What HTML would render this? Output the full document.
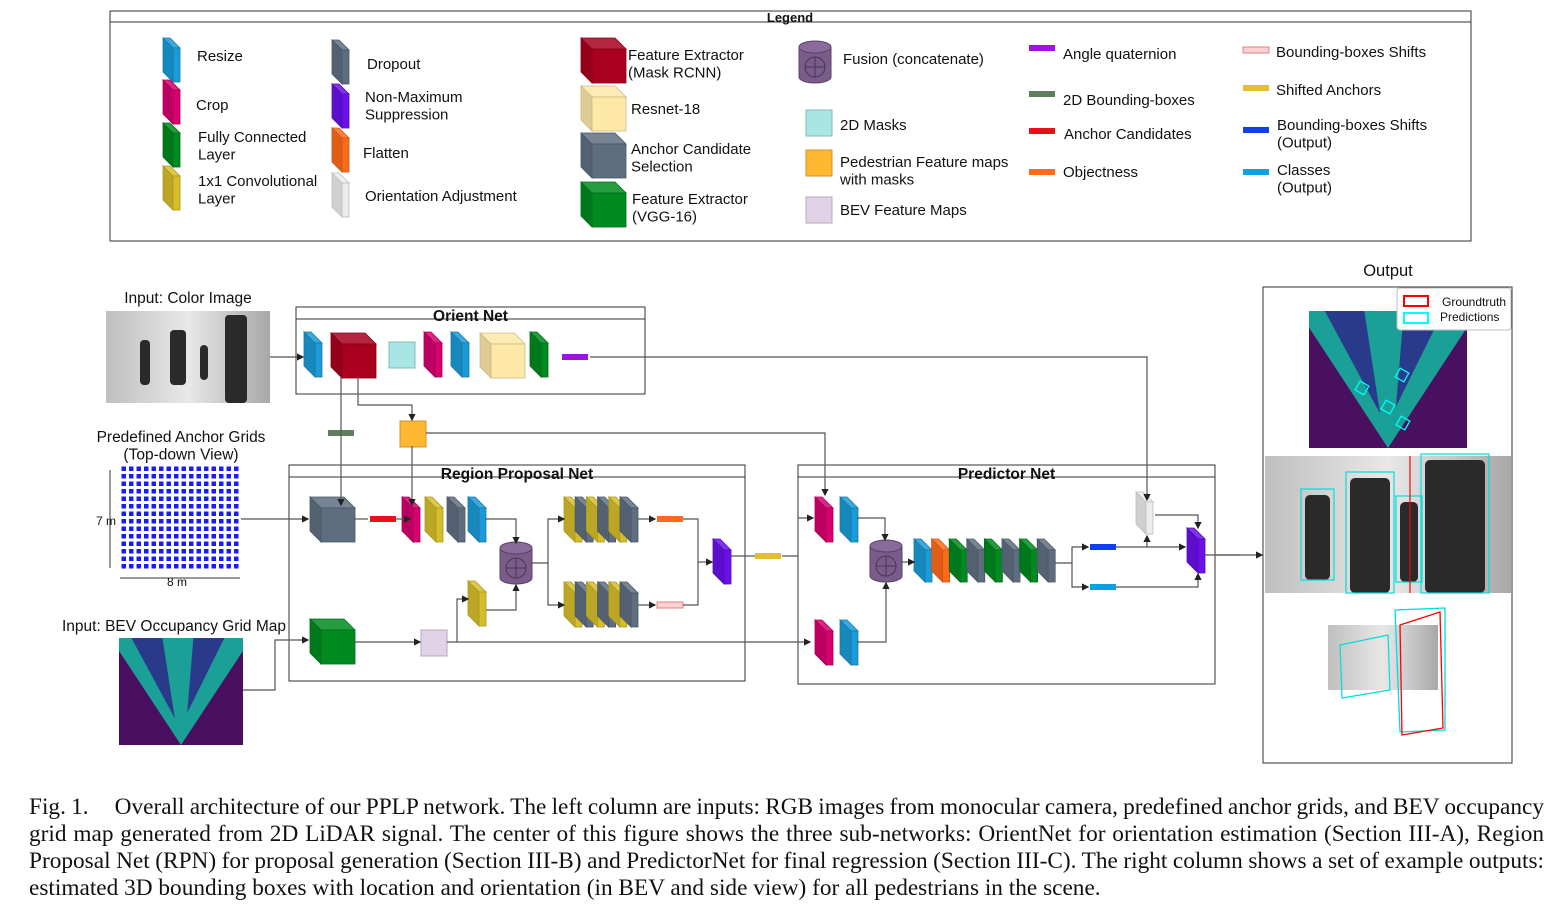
<!DOCTYPE html>
<html><head><meta charset="utf-8"><style>
html,body{margin:0;padding:0;background:#fff;width:1557px;height:909px;overflow:hidden}
svg text{font-family:"Liberation Sans",sans-serif;fill:#111}
#cap{position:absolute;left:29px;top:794px;width:1515px;font-family:"Liberation Serif",serif;font-size:23.3px;line-height:27px;color:#111}
#cap div{text-align:justify;text-align-last:justify;white-space:nowrap;word-spacing:-3px}
#cap div.last{text-align-last:left;word-spacing:0}
</style></head><body>
<svg id="svg" width="1557" height="909" style="position:absolute;left:0;top:0">
<defs>
<marker id="ar" markerWidth="6" markerHeight="6" refX="5" refY="3" orient="auto"><path d="M0,0 L6,3 L0,6z" fill="#222"/></marker>
<pattern id="grid" width="7.5" height="7.5" patternUnits="userSpaceOnUse"><rect width="7.5" height="7.5" fill="#fff"/><rect x="1.5" y="1.5" width="4.5" height="4.5" fill="#1a1aff"/></pattern>
<linearGradient id="photo" x1="0" x2="1"><stop offset="0" stop-color="#bfbfbf"/><stop offset="0.5" stop-color="#e8e8e8"/><stop offset="1" stop-color="#a8a8a8"/></linearGradient>
</defs>
<g>
<rect x="110" y="11" width="1361" height="230" fill="none" stroke="#333" stroke-width="1"/>
<line x1="110" y1="22" x2="1471" y2="22" stroke="#333"/>
<text x="790" y="22" font-size="13" font-weight="bold" text-anchor="middle">Legend</text>
</g>
<g id="lt" font-size="15"></g>
<g id="shapes"></g>
<g id="lines" stroke="#555" stroke-width="1.2" fill="none"></g>
</svg>
<div id="cap">
<div>Fig. 1.&nbsp;&nbsp;&nbsp;&nbsp;&nbsp;Overall architecture of our PPLP network. The left column are inputs: RGB images from monocular camera, predefined anchor grids, and BEV occupancy</div>
<div>grid map generated from 2D LiDAR signal. The center of this figure shows the three sub-networks: OrientNet for orientation estimation (Section III-A), Region</div>
<div>Proposal Net (RPN) for proposal generation (Section III-B) and PredictorNet for final regression (Section III-C). The right column shows a set of example outputs:</div>
<div class="last">estimated 3D bounding boxes with location and orientation (in BEV and side view) for all pedestrians in the scene.</div>
</div>
<script>
const NS='http://www.w3.org/2000/svg';
const S=document.getElementById('shapes'),L=document.getElementById('lines'),T=document.getElementById('lt');
function mk(t,a,p){const e=document.createElementNS(NS,t);for(const k in a)e.setAttribute(k,a[k]);(p||S).appendChild(e);return e;}
function sh(c,f){let n=parseInt(c.slice(1),16);let r=n>>16,g=(n>>8)&255,b=n&255;const m=v=>Math.max(0,Math.min(255,Math.round(f>1?v+(255-v)*(f-1):v*f)));return'rgb('+m(r)+','+m(g)+','+m(b)+')';}
function cube(x,y,w,h,d,c,name){const g=mk('g',{});


mk('polygon',{points:`${x},${y} ${x+w},${y} ${x+w+d},${y+d} ${x+d},${y+d}`,fill:sh(c,1.15),stroke:sh(c,0.8),'stroke-width':0.8},g);
mk('polygon',{points:`${x},${y} ${x+d},${y+d} ${x+d},${y+d+h} ${x},${y+h}`,fill:sh(c,0.88),stroke:sh(c,0.8),'stroke-width':0.8},g);
mk('rect',{x:x+d,y:y+d,width:w,height:h,fill:c,stroke:sh(c,0.8),'stroke-width':0.8},g);return g;}
function layer(x,y,c,name,h){return cube(x,y,7,h||34,11,c,name);}
function bigcube(x,y,c,name){return cube(x,y,34,34,11,c,name);}
function sq(x,y,c,name,s){const r=mk('rect',{x:x,y:y,width:s||26,height:s||26,fill:c,stroke:sh(c,0.8)});

}
function bar(x,y,c,name,st){const r=mk('rect',{x:x,y:y-3,width:26,height:6,fill:c,stroke:st||'none'});

}
function cyl(x,y,name){const g=mk('g',{});


const w=32,h=42,e=6;
mk('path',{d:`M${x},${y+e} L${x},${y+h-e} A${w/2},${e} 0 0 0 ${x+w},${y+h-e} L${x+w},${y+e}`,fill:'#7a5c8a',stroke:'#5a4266'},g);
mk('ellipse',{cx:x+w/2,cy:y+e,rx:w/2,ry:e,fill:'#8a6a9a',stroke:'#5a4266'},g);
mk('circle',{cx:x+w/2,cy:y+h*0.62,r:10,fill:'none',stroke:'#4a3456'},g);
mk('path',{d:`M${x+w/2-10},${y+h*0.62}h20M${x+w/2},${y+h*0.62-10}v20`,stroke:'#4a3456'},g);}
function txt(x,y,lines,p,a){lines.forEach((s,i)=>{const t=mk('text',Object.assign({x:x,y:y+i*17.5},a||{}),p||T);t.textContent=s;

});}
function ln(d,arrow){const p=mk('path',{d:d},L);if(arrow)p.setAttribute('marker-end','url(#ar)');}

const C={blue:'#1a9ad6',mag:'#d6006e',green:'#008a20',yel:'#d6be2a',slate:'#5e6e80',purp:'#6a10e8',orange:'#ff6a1a',white:'#ececec',red:'#a8001e',lyel:'#fde8a8',cyan:'#a8e6e6',porange:'#ffb830',lav:'#e2d2e8',fus:'#7a5c8a'};
cube(163,38,7,34,10,C.blue,'legend-icon-resize');txt(197,61,['Resize']);
cube(163,80,7,34,10,C.mag,'legend-icon-crop');txt(196,110,['Crop']);
cube(163,123,7,34,10,C.green,'legend-icon-fc');txt(198,142,['Fully Connected','Layer']);
cube(163,166,7,34,10,C.yel,'legend-icon-conv');txt(198,186,['1x1 Convolutional','Layer']);
cube(332,40,7,34,10,C.slate,'legend-icon-dropout');txt(367,69,['Dropout']);
cube(332,84,7,34,10,C.purp,'legend-icon-nms');txt(365,102,['Non-Maximum','Suppression']);
cube(332,128,7,34,10,C.orange,'legend-icon-flatten');txt(363,158,['Flatten']);
cube(332,173,7,34,10,C.white,'legend-icon-orientation');txt(365,201,['Orientation Adjustment']);
bigcube(581,38,C.red,'legend-icon-mask-rcnn');txt(628,60,['Feature Extractor','(Mask RCNN)']);
bigcube(581,86,C.lyel,'legend-icon-resnet');txt(631,114,['Resnet-18']);
bigcube(581,133,C.slate,'legend-icon-anchor-selection');txt(631,154,['Anchor Candidate','Selection']);
bigcube(581,182,C.green,'legend-icon-vgg');txt(632,204,['Feature Extractor','(VGG-16)']);
cyl(799,41,'legend-icon-fusion');txt(843,64,['Fusion (concatenate)']);
sq(806,110,C.cyan,'legend-icon-2d-masks');txt(840,130,['2D Masks']);
sq(806,150,C.porange,'legend-icon-ped-maps');txt(840,167,['Pedestrian Feature maps','with masks']);
sq(806,197,C.lav,'legend-icon-bev-maps');txt(840,215,['BEV Feature Maps']);
bar(1029,48,'#a010e8','legend-icon-angle');txt(1063,59,['Angle quaternion']);
bar(1029,94,'#5e7e5e','legend-icon-2d-bb');txt(1063,105,['2D Bounding-boxes']);
bar(1029,131,'#e8101a','legend-icon-anchor-cand');txt(1064,139,['Anchor Candidates']);
bar(1029,172,'#ff6a1a','legend-icon-objectness');txt(1063,177,['Objectness']);
bar(1243,50,'#fad0d0','legend-icon-bb-shifts','#e08080');txt(1276,57,['Bounding-boxes Shifts']);
bar(1243,88,'#e0c030','legend-icon-shifted-anchors');txt(1276,95,['Shifted Anchors']);
bar(1243,130,'#1040e8','legend-icon-bb-shifts-out');txt(1277,130,['Bounding-boxes Shifts','(Output)']);
bar(1243,172,'#10a0e0','legend-icon-classes-out');txt(1277,175,['Classes','(Output)']);

function netbox(x,y,w,h,title,name){const g=mk('g',{});


mk('rect',{x:x,y:y,width:w,height:h,fill:'none',stroke:'#333'},g);mk('line',{x1:x,y1:y+12,x2:x+w,y2:y+12,stroke:'#333'},g);
const t=mk('text',{x:x+w/2,y:y+14,'font-size':15.5,'font-weight':'bold','text-anchor':'middle'},g);t.textContent=title;}
netbox(296,307,349,87,'Orient Net','orient-net-box');
netbox(289,465,456,216,'Region Proposal Net','region-proposal-net-box');
netbox(798,465,417,219,'Predictor Net','predictor-net-box');
const ob=mk('rect',{x:1263,y:287,width:249,height:476,fill:'none',stroke:'#333'});


txt(1388,276,['Output'],S,{'font-size':16.5,'text-anchor':'middle'});
txt(188,303,['Input: Color Image'],S,{'font-size':15.5,'text-anchor':'middle'});
txt(181,442,['Predefined Anchor Grids','(Top-down View)'],S,{'font-size':15.5,'text-anchor':'middle'});
txt(174,631,['Input: BEV Occupancy Grid Map'],S,{'font-size':15.5,'text-anchor':'middle'});
txt(106,525,['7 m'],S,{'font-size':12,'text-anchor':'middle'});
txt(177,586,['8 m'],S,{'font-size':12,'text-anchor':'middle'});

ln('M270,357 H303',1);ln('M590,357 H1147 V500',1);
ln('M341,377 V405 H341 V505',1);ln('M358,377 V405 H412 V420',1);ln('M412,446 V505',1);
ln('M426,433 H825 V495',1);
ln('M241,519 H308',1);ln('M354,519 H368');ln('M396,519 H410',1);
ln('M485,519 H516 V543',1);ln('M531,563 H548 V519 H564',1);ln('M548,563 V605 H564',1);
ln('M638,519 H655',1);ln('M638,605 H655',1);ln('M683,519 H698 V605 H683');ln('M698,562 H712',1);
ln('M486,610 H516 V585',1);ln('M457,642 V599 H468',1);
ln('M243,690 H275 V640 H308',1);ln('M355,642 H420',1);ln('M447,642 H810',1);
ln('M731,556 H755');ln('M782,556 H798 V518 H813',1);ln('M798,556 V642',0);ln('M857,518 H885 V540',1);ln('M857,642 H886 V583',1);
ln('M901,562 H914',1);ln('M1055,563 H1072 V547 H1088',1);ln('M1072,563 V587 H1088',1);
ln('M1116,547 H1185',1);ln('M1147,547 V536',1);ln('M1155,515 H1198 V528',1);ln('M1116,587 H1198 V574',1);
ln('M1205,555 H1262',1);ln('M1215,555 H1240');

layer(304,332,C.blue,'orient-resize-layer');bigcube(331,333,C.red,'orient-mask-rcnn');
sq(389,342,C.cyan,'orient-2d-masks');layer(424,332,C.mag,'orient-crop-layer');layer(451,332,C.blue,'orient-resize-layer-2');
bigcube(480,333,C.lyel,'orient-resnet18');layer(530,332,C.green,'orient-fc-layer');bar(562,357,'#a010e8','orient-angle-quaternion');
bar(328,433,'#5e7e5e','rpn-2d-bboxes');sq(400,421,C.porange,'pedestrian-feature-maps');
bigcube(310,497,C.slate,'rpn-anchor-selection');bar(370,519,'#e8101a','rpn-anchor-candidates');
layer(402,497,C.mag,'rpn-crop');layer(425,497,C.yel,'rpn-conv');layer(447,497,C.slate,'rpn-dropout');layer(468,497,C.blue,'rpn-resize');
cyl(500,542,'rpn-fusion');
const seq=[C.yel,C.slate,C.yel,C.slate,C.yel,C.slate];
seq.forEach((c,i)=>layer(564+i*11.2,497,c,'rpn-top-layer-'+i));
seq.forEach((c,i)=>layer(564+i*11.2,582,c,'rpn-bottom-layer-'+i));
bar(657,519,'#ff6a1a','rpn-objectness');bar(657,605,'#fad0d0','rpn-bb-shifts','#e08080');
layer(713,539,C.purp,'rpn-nms');bar(755,556,'#e0c030','shifted-anchors');
bigcube(310,619,C.green,'bev-vgg16');sq(421,630,C.lav,'bev-feature-maps');layer(468,581,C.yel,'bev-conv');
layer(815,497,C.mag,'pred-crop-top');layer(840,497,C.blue,'pred-resize-top');
layer(815,620,C.mag,'pred-crop-bottom');layer(840,620,C.blue,'pred-resize-bottom');
cyl(870,540,'pred-fusion');
[C.blue,C.orange,C.green,C.slate,C.green,C.slate,C.green,C.slate].forEach((c,i)=>layer(914+i*17.6,539,c,'pred-layer-'+i,32));
bar(1090,547,'#1040e8','pred-bb-shifts-out');bar(1090,587,'#10a0e0','pred-classes-out');
cube(1136,492,7,32,10,C.white,'pred-orientation-adjustment');layer(1187,528,C.purp,'pred-nms');

function img(name){const g=mk('g',{});

return g;}
let g=img('color-image');
mk('rect',{x:106,y:311,width:164,height:92,fill:'url(#photo)'},g);
[[140,340,10,45],[170,330,16,55],[200,345,8,35],[225,315,22,88]].forEach(p=>mk('rect',{x:p[0],y:p[1],width:p[2],height:p[3],fill:'#2a2a2a',rx:4},g));
g=img('anchor-grid');mk('rect',{x:121,y:466,width:120,height:103,fill:'url(#grid)'},g);
mk('path',{d:'M110,470 V568 M120,578 H240',stroke:'#333'},g);
function bev(x,y,w,h,name){const g=img(name);mk('rect',{x:x,y:y,width:w,height:h,fill:'#4a1060'},g);
mk('polygon',{points:`${x},${y+h*0.12} ${x+w/2},${y+h} ${x+w},${y+h*0.12} ${x+w},${y} ${x},${y}`,fill:'#1aa096'},g);
mk('polygon',{points:`${x+w*0.1},${y} ${x+w*0.45},${y+h*0.75} ${x+w*0.35},${y} `,fill:'#2a3a8a'},g);
mk('polygon',{points:`${x+w*0.6},${y} ${x+w*0.55},${y+h*0.7} ${x+w*0.85},${y}`,fill:'#2a3a8a'},g);return g;}
bev(119,638,124,107,'bev-input-image');
g=bev(1309,311,158,137,'output-bev-image');
[[1357,383],[1383,402],[1397,370],[1398,418]].forEach(p=>mk('rect',{x:p[0],y:p[1],width:10,height:10,fill:'none',stroke:'#0ff','stroke-width':1.3,transform:`rotate(30 ${p[0]+5} ${p[1]+5})`},g));
g=img('output-photo');mk('rect',{x:1265,y:456,width:246,height:137,fill:'url(#photo)'},g);
[[1305,495,25,85],[1350,478,40,115],[1400,502,18,80],[1425,460,60,133]].forEach(p=>{mk('rect',{x:p[0],y:p[1],width:p[2],height:p[3],fill:'#2a2a2a',rx:5},g);mk('rect',{x:p[0]-4,y:p[1]-6,width:p[2]+8,height:p[3]+6,fill:'none',stroke:'#0dd','stroke-width':1.2},g);});
mk('line',{x1:1410,y1:456,x2:1410,y2:593,stroke:'#f00','stroke-width':1.2},g);
g=img('output-side-view');mk('rect',{x:1324,y:602,width:127,height:143,fill:'#fff'},g);
mk('rect',{x:1328,y:625,width:110,height:65,fill:'url(#photo)'},g);
mk('polygon',{points:'1395,610 1445,608 1445,730 1400,732',fill:'none',stroke:'#0dd','stroke-width':1.3},g);
mk('polygon',{points:'1400,625 1440,612 1443,728 1402,735',fill:'none',stroke:'#f00','stroke-width':1.3},g);
mk('polygon',{points:'1340,645 1388,635 1390,690 1342,698',fill:'none',stroke:'#0dd','stroke-width':1.2},g);
g=img('output-legend');mk('rect',{x:1397,y:288,width:114,height:42,fill:'#fff',stroke:'#bbb',rx:3},g);
mk('rect',{x:1404,y:296,width:24,height:10,fill:'none',stroke:'#f00','stroke-width':2},g);
mk('rect',{x:1404,y:313,width:24,height:10,fill:'none',stroke:'#0ff','stroke-width':2},g);
txt(1442,306,['Groundtruth'],g,{'font-size':12});txt(1440,321,['Predictions'],g,{'font-size':12});
</script>
</body></html>
